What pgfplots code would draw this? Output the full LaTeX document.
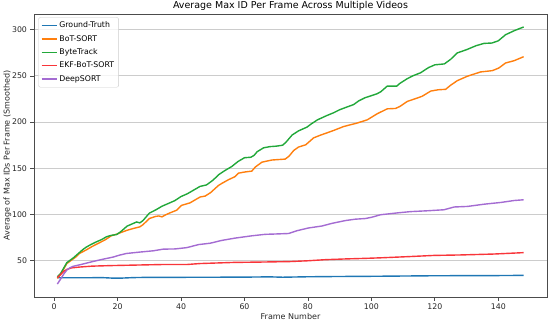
\documentclass[border=0pt]{standalone}
\usepackage{pgfplots}
\pgfplotsset{compat=1.18}
\usepackage{fontspec}
\setmainfont{DejaVu Sans}
\definecolor{cblue}{HTML}{1F77B4}
\definecolor{corange}{HTML}{FF7F0E}
\definecolor{cgreen}{HTML}{22A83A}
\definecolor{cred}{HTML}{F8353A}
\definecolor{cpurple}{HTML}{A46CD2}
\begin{document}
\begin{tikzpicture}
\begin{axis}[
 scale only axis, width=513pt, height=283pt,
 xmin=-6.35, xmax=155.35, ymin=10.8, ymax=317,
 xtick={0,20,...,140}, ytick={50,100,...,300},
 tick align=outside, xtick pos=lower, ytick pos=left,
 major tick length=3.5pt,
 ymajorgrids, grid style={black!20, line width=0.9pt},
 axis line style={black!70, line width=0.9pt},
 tick style={black!70, line width=0.8pt},
 tick label style={font=\fontsize{7.8}{9}\selectfont, text=black!85},
 /pgf/number format/assume math mode=true,
 title={Average Max ID Per Frame Across Multiple Videos},
 title style={font=\fontsize{9.5}{11}\selectfont, yshift=-6pt},
 xlabel={Frame Number},
 ylabel={Average of Max IDs Per Frame (Smoothed)},
 label style={font=\fontsize{8}{10}\selectfont, text=black!85},
 xlabel style={yshift=3pt},
 ylabel style={yshift=-6pt},
 legend style={at={(0,1)}, anchor=north west, xshift=4.3pt, yshift=-3.3pt,
   font=\fontsize{7.8}{9}\selectfont, draw=black!20, rounded corners=2pt,
   fill=white, fill opacity=0.8, text opacity=1, row sep=2pt,
   inner xsep=2.5pt, inner ysep=2.5pt},
 legend cell align=left,
 legend image code/.code={\draw[#1] (0pt,0pt) -- (15pt,0pt);},
 no markers,
 every axis plot/.append style={line width=1.4pt},
]
\addplot[cblue] coordinates {
(1,31.7)(5,31.6)(10,31.6)(15,31.8)(18,31.3)(21,31.2)(25,31.8)(30,32.1)(40,32.1)(50,32.2)(60,32.3)(68,32.6)(72,32.2)(80,32.7)(90,33)(100,33.2)(110,33.5)(120,33.8)(130,33.9)(140,34)(148,34.2)
};
\addlegendentry{Ground-Truth}
\addplot[corange] coordinates {
(1,31)(2,35)(3,41)(4,47)(5,49.5)(6,52)(7,54.5)(8,58)(10,61.5)(12,65.5)(14,69)(16,72.5)(18,77)(19.7,78.8)(21,80.5)(23,83)(25,85)(27,86.7)(28,89)(30,95.7)(32,98)(33,98.5)(34,97.5)(35,99.5)(36.5,101.8)(38.6,104.7)(40.2,110)(42.8,112.6)(44,115)(46,119)(47.6,120)(49.3,123.7)(51.8,131.5)(53,134)(55,137.8)(57,141)(58.1,144.8)(60,146)(62.3,147)(63.4,151.4)(65.5,156.7)(68.6,159)(72.8,160)(74,163)(75.5,169.3)(77,173)(79.3,175.5)(81.8,183)(84,186)(86,188.4)(88.1,191)(91.3,195.3)(95.5,199)(98.7,202.5)(101.8,209)(105,214.4)(107.6,214.8)(109,217)(111.3,222.4)(114.4,226)(116,228)(118.7,233.6)(121,235)(123.4,235.5)(125,240)(127.1,244.9)(130.2,249.6)(134.4,254.3)(138.1,255.7)(140.2,258.6)(142.3,264)(145,266.5)(148,270.8)
};
\addlegendentry{BoT-SORT}
\addplot[cgreen] coordinates {
(1,32.7)(2,36)(3,42)(4,48)(5,50.5)(6,53)(7,56)(8,59)(9,62)(10,64.5)(11,66.5)(13,70)(15,73)(16.5,76)(18,77.5)(19.7,78.4)(21,81.5)(23,87.5)(25,90.5)(26,92)(27,91)(28,93.5)(30,101.5)(32,105)(34,109)(36,112)(38,115)(40,119.5)(42,122.5)(44,126.5)(46,130.5)(48,132)(50,137)(52,143.5)(54,148)(56,152)(58,157.5)(60,161.5)(62,162)(63,164)(64,168)(66,172.2)(68,173.5)(70,174)(72,175)(73,178)(75,186)(77,190.5)(79.7,194.6)(81,198)(83,202.5)(86,207.2)(88,210)(90,213.4)(92,216)(94.4,219)(96,223)(98,226.4)(101.8,230.7)(103,233)(105,239)(108,239)(109,242)(111.3,247)(113,250)(115.5,253.4)(118,259)(120,262)(123,263)(125,268)(127,274.8)(130,278.4)(133,282.7)(135.5,285.2)(138,285.6)(140,288)(142.3,294.6)(145,298.9)(148,303)
};
\addlegendentry{ByteTrack}
\addplot[cred] coordinates {
(1,31.7)(2,35)(3,38.5)(4,40.6)(5.5,42.3)(8,43.2)(12,44.2)(18,44.8)(25,45.3)(35,46)(42,46)(46,47)(56.5,48.2)(65,48.6)(74,49.1)(80,50)(85.5,51.2)(92,52)(98,52.6)(103,53.2)(112.4,54.6)(119.8,55.8)(128.2,56.3)(138.7,57.3)(148,58.8)
};
\addlegendentry{EKF-BoT-SORT}
\addplot[cpurple] coordinates {
(1,24.8)(2,30)(3,35.5)(4,40)(5,42.5)(6,44)(9,46.4)(12,49)(15,51.4)(18.6,54)(20.5,56)(22.8,57.9)(27,59.4)(31.3,60.8)(34.4,62.6)(38.1,62.8)(41.8,64.2)(45.5,67.5)(49.2,69)(52.8,72)(57,74.5)(62.3,77)(66.5,78.6)(70,79)(73.9,79.5)(76.5,82.5)(80.2,85.5)(84.4,87.6)(87.6,90.5)(91.8,93.5)(94.9,95)(98.1,95.7)(100,97)(102.9,99.8)(108.2,101.8)(112.4,103.2)(117.7,104.1)(122.9,105.2)(126.1,108.2)(130.3,108.8)(135.5,111.2)(140.8,113.1)(145,115.2)(148,116)
};
\addlegendentry{DeepSORT}
\end{axis}
\pgfresetboundingbox
\path ([xshift=-34pt,yshift=-25pt]current axis.south west) rectangle ([xshift=3pt,yshift=14pt]current axis.north east);
\end{tikzpicture}
\end{document}
